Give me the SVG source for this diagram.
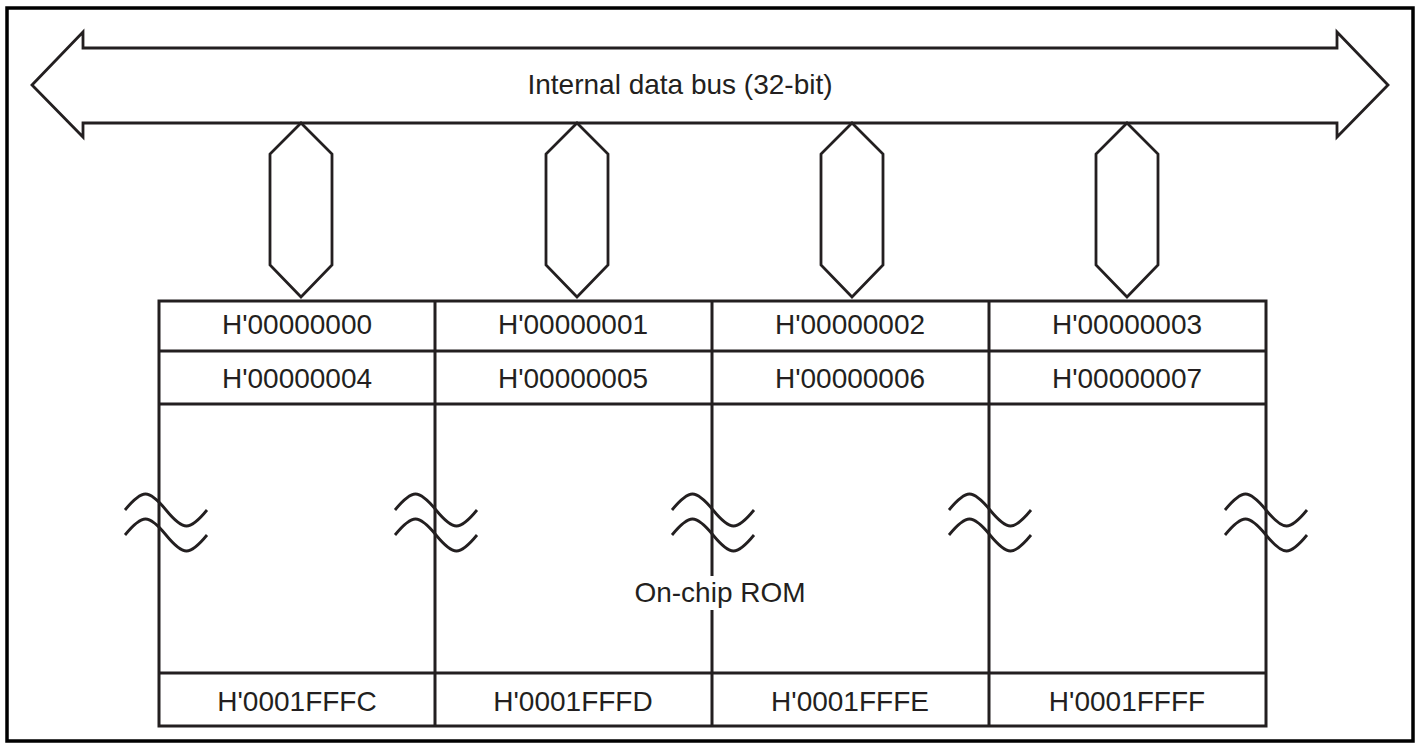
<svg xmlns="http://www.w3.org/2000/svg" width="1419" height="749" viewBox="0 0 1419 749">
<style>
.ln{fill:none;stroke:#231f20;stroke-width:3;stroke-linejoin:miter}
.bus{fill:#fff;stroke:#231f20;stroke-width:2.8;stroke-linejoin:miter}
.tl{fill:none;stroke:#231f20;stroke-width:2.8;stroke-linecap:butt}
.t{font-family:"Liberation Sans",Arial,sans-serif;font-size:28px;fill:#231f20;text-anchor:middle}
</style>
<defs>
<path id="brk" class="tl" d="M-41,0 C-34.3,-8.2 -27,-16 -20.5,-16 C-14,-16 -6.7,-8.2 0,0 C6.7,8.2 14,16 20.5,16 C27,16 34.3,8.2 41,0 M-41,25 C-34.3,16.8 -27,9 -20.5,9 C-14,9 -6.7,16.8 0,25 C6.7,33.2 14,41 20.5,41 C27,41 34.3,33.2 41,25"/>
</defs>
<rect x="0" y="0" width="1419" height="749" fill="#fff"/>
<rect id="frame" x="7" y="8" width="1406" height="733" fill="none" stroke="#000" stroke-width="3.5"/>
<g id="bus">
<polygon class="bus" points="32,85 83,32 83,48 1337,48 1337,32 1388,85 1337,137 1337,123 83,123 83,137"/>
<text class="t" x="680" y="94">Internal data bus (32-bit)</text>
</g>
<g id="connectors">
<polygon class="bus" points="301,123 332,154 332,265 301,297 270,265 270,154"/>
<polygon class="bus" points="577,123 608,154 608,265 577,297 546,265 546,154"/>
<polygon class="bus" points="852,123 883,154 883,265 852,297 821,265 821,154"/>
<polygon class="bus" points="1127,123 1158,154 1158,265 1127,297 1096,265 1096,154"/>
</g>
<g id="rom">
<rect class="ln" x="159" y="301" width="1107" height="425"/>
<line class="ln" x1="159" y1="351" x2="1266" y2="351"/>
<line class="ln" x1="159" y1="404" x2="1266" y2="404"/>
<line class="ln" x1="159" y1="673" x2="1266" y2="673"/>
<line class="ln" x1="435" y1="301" x2="435" y2="726"/>
<line class="ln" x1="712" y1="301" x2="712" y2="726"/>
<line class="ln" x1="989" y1="301" x2="989" y2="726"/>
<rect x="638" y="576" width="164" height="34" fill="#fff"/>
<text class="t" x="720" y="602">On-chip ROM</text>
</g>
<g id="addr-row0">
<text class="t" x="297" y="334">H'00000000</text>
<text class="t" x="573" y="334">H'00000001</text>
<text class="t" x="850" y="334">H'00000002</text>
<text class="t" x="1127" y="334">H'00000003</text>
</g>
<g id="addr-row1">
<text class="t" x="297" y="388">H'00000004</text>
<text class="t" x="573" y="388">H'00000005</text>
<text class="t" x="850" y="388">H'00000006</text>
<text class="t" x="1127" y="388">H'00000007</text>
</g>
<g id="addr-last">
<text class="t" x="297" y="711">H'0001FFFC</text>
<text class="t" x="573" y="711">H'0001FFFD</text>
<text class="t" x="850" y="711">H'0001FFFE</text>
<text class="t" x="1127" y="711">H'0001FFFF</text>
</g>
<g id="breaks">
<use href="#brk" x="166" y="510"/>
<use href="#brk" x="436" y="510"/>
<use href="#brk" x="713" y="510"/>
<use href="#brk" x="990" y="510"/>
<use href="#brk" x="1266" y="510"/>
</g>
</svg>
